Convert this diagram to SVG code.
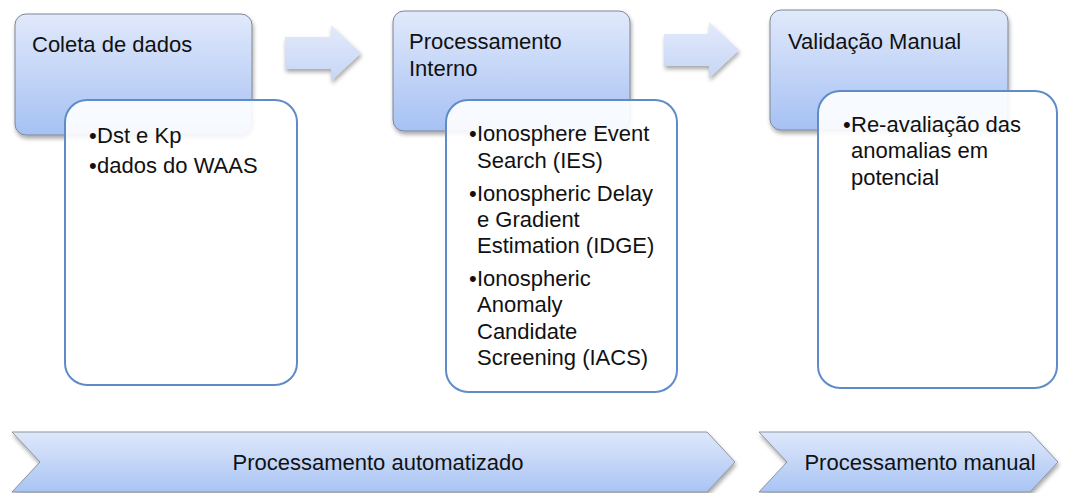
<svg xmlns="http://www.w3.org/2000/svg" width="1065" height="493" viewBox="0 0 1065 493">
<defs>
<linearGradient id="gBox" x1="0" y1="0" x2="0" y2="1">
<stop offset="0" stop-color="#e1e9fb"/>
<stop offset="1" stop-color="#a6c1f3"/>
</linearGradient>
<linearGradient id="gArrow" x1="0" y1="0" x2="0" y2="1">
<stop offset="0" stop-color="#e3eafb"/>
<stop offset="1" stop-color="#c6d6f6"/>
</linearGradient>
<linearGradient id="gChev" x1="0" y1="0" x2="0" y2="1">
<stop offset="0" stop-color="#dfe8fb"/>
<stop offset="1" stop-color="#a9c4f4"/>
</linearGradient>
<filter id="sh" x="-10%" y="-10%" width="125%" height="130%">
<feGaussianBlur in="SourceAlpha" stdDeviation="2"/>
<feOffset dx="1" dy="3" result="b"/>
<feComponentTransfer><feFuncA type="linear" slope="0.35"/></feComponentTransfer>
<feMerge><feMergeNode/><feMergeNode in="SourceGraphic"/></feMerge>
</filter>
</defs>
<style>
.box{fill:url(#gBox);stroke:#7d8794;stroke-width:1;filter:url(#sh)}
.card{fill:#ffffff;fill-opacity:0.9;stroke:#5f8bc8;stroke-width:2}
.arrow{fill:url(#gArrow);filter:url(#sh)}
.chev{fill:url(#gChev);stroke:#8e949b;stroke-width:1;filter:url(#sh)}
text{font-family:"Liberation Sans",Arial,sans-serif;font-size:22px;fill:#111}
.mid{text-anchor:middle}
</style>
<g id="connectors">
<path class="arrow" d="M285,37 H331 V25 L361,53 L331,81 V69 H285 Z"/>
<path class="arrow" d="M664,34 H709 V22 L739,50 L709,78 V66 H664 Z"/>
</g>
<g id="node-coleta">
<rect class="box" x="15" y="14" width="237" height="121" rx="11"/>
<text x="32" y="52">Coleta de dados</text>
</g>
<g id="node-coleta-detail">
<rect class="card" x="65" y="100" width="232" height="285" rx="22"/>
<text x="89" y="143">•</text><text x="97" y="143">Dst e Kp</text>
<text x="89" y="173">•</text><text x="97" y="173">dados do WAAS</text>
</g>
<g id="node-processamento">
<rect class="box" x="393" y="11" width="237" height="120" rx="11"/>
<text x="409" y="49">Processamento</text>
<text x="409" y="76">Interno</text>
</g>
<g id="node-processamento-detail">
<rect class="card" x="446" y="100" width="231" height="292" rx="22"/>
<text x="469" y="141">•</text><text x="477" y="141">Ionosphere Event</text>
<text x="477" y="168">Search (IES)</text>
<text x="469" y="201">•</text><text x="477" y="201">Ionospheric Delay</text>
<text x="477" y="227">e Gradient</text>
<text x="477" y="253">Estimation (IDGE)</text>
<text x="469" y="286">•</text><text x="477" y="286">Ionospheric</text>
<text x="477" y="312">Anomaly</text>
<text x="477" y="339">Candidate</text>
<text x="477" y="365">Screening (IACS)</text>
</g>
<g id="node-validacao">
<rect class="box" x="770" y="10" width="238" height="120" rx="11"/>
<text x="788" y="49">Validação Manual</text>
</g>
<g id="node-validacao-detail">
<rect class="card" x="818" y="91" width="239" height="297" rx="22"/>
<text x="843" y="132">•</text><text x="851" y="132">Re-avaliação das</text>
<text x="851" y="158">anomalias em</text>
<text x="851" y="185">potencial</text>
</g>
<g id="node-auto">
<path class="chev" d="M12,432 H707 L735,462 L707,492 H12 L40,462 Z"/>
<text class="mid" x="378" y="470">Processamento automatizado</text>
</g>
<g id="node-manual">
<path class="chev" d="M759,432 H1030 L1058,462 L1030,492 H759 L787,462 Z"/>
<text class="mid" x="920" y="470">Processamento manual</text>
</g>
</svg>
